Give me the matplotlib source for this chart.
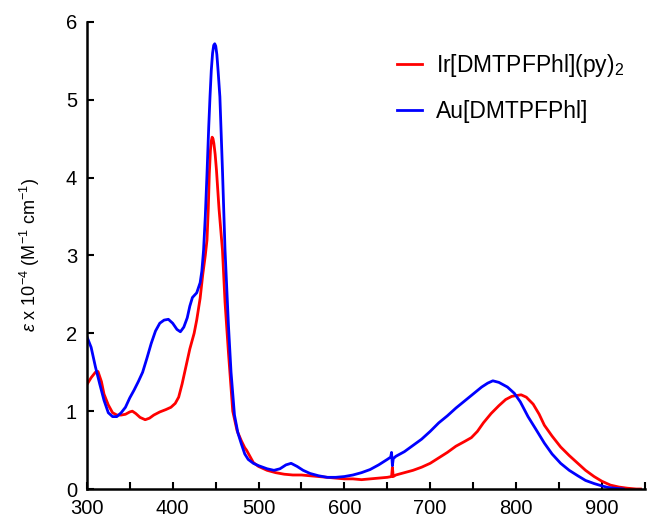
import matplotlib
matplotlib.use("Agg")
import matplotlib.pyplot as plt
from matplotlib.ticker import MultipleLocator

# Au[DMTPFPhl] absorption (blue)
au_wl = [300, 305, 310, 315, 320, 325, 330, 335, 340, 345, 350, 355, 360, 365,
         370, 375, 380, 385, 390, 395, 400, 405, 409, 413, 417, 420, 423, 428,
         432, 434, 436, 438, 440, 442, 443.5, 445, 446.5, 447.8, 449, 450.2,
         451.5, 453, 455, 458, 461, 465, 468, 472,
         476, 480, 484, 488, 494, 500, 510, 518, 525, 532, 538, 545, 552, 560,
         570, 580, 590, 600, 610, 620, 630, 640, 650, 654, 655, 656, 657, 660,
         670, 680, 690, 700, 710, 720, 730, 740, 750, 760, 767, 773, 780, 790,
         798, 805, 814, 823, 833, 842, 852, 862, 872, 881, 891, 900, 907, 915,
         925]
au_eps = [1.96, 1.82, 1.57, 1.35, 1.14, 0.98, 0.93, 0.93, 0.98, 1.05, 1.17,
          1.27, 1.38, 1.50, 1.68, 1.87, 2.03, 2.13, 2.17, 2.18, 2.13, 2.05,
          2.02, 2.08, 2.20, 2.35, 2.46, 2.52, 2.65, 2.80, 3.07, 3.50, 4.05,
          4.65, 5.04, 5.38, 5.60, 5.70, 5.72, 5.69, 5.58, 5.36, 5.04, 4.10,
          3.07, 2.10, 1.50, 0.95, 0.72, 0.58, 0.45,
          0.38, 0.33, 0.30, 0.26, 0.24, 0.26, 0.31, 0.33, 0.29, 0.24, 0.20,
          0.17, 0.15, 0.15, 0.16, 0.18, 0.21, 0.25, 0.31, 0.38, 0.41, 0.47,
          0.30, 0.39, 0.42, 0.48, 0.56, 0.64, 0.74, 0.85, 0.94, 1.04, 1.13,
          1.22, 1.31, 1.36, 1.39, 1.37, 1.31, 1.23, 1.12, 0.93, 0.77, 0.59,
          0.45, 0.33, 0.24, 0.17, 0.11, 0.07, 0.04, 0.02, 0.01, 0.0]

# Ir[DMTPFPhl](py)2 absorption (red)
ir_wl = [300, 305, 310, 313, 317, 320, 325, 330, 335, 340, 345, 350, 353, 357,
         362, 368, 373, 378, 385, 392, 398, 403, 407, 411, 415, 420, 425, 428,
         432, 435, 438, 440, 441.5, 442.7, 444, 445, 446, 447, 448, 449.5, 451,
         454, 458, 461, 465, 470,
         475, 480, 484, 486, 490, 494, 500, 510, 520, 530, 540, 550, 560, 570,
         580, 590, 600, 610, 620, 630, 640, 650, 655, 656, 657, 660, 670, 680,
         690, 700, 710, 720, 730, 740, 748, 755, 762, 771, 780, 788, 795, 800,
         806, 812, 820, 827, 833, 842, 852, 862, 872, 881, 891, 900, 910, 920,
         930, 940, 945]
ir_eps = [1.34, 1.43, 1.50, 1.51, 1.38, 1.22, 1.08, 0.98, 0.95, 0.95, 0.96,
          0.99, 1.00, 0.97, 0.92, 0.89, 0.91, 0.95, 0.99, 1.02, 1.05, 1.10,
          1.18, 1.35, 1.55, 1.80, 2.00, 2.17, 2.45, 2.75, 3.00, 3.20, 3.60,
          4.05, 4.35, 4.47, 4.52, 4.50, 4.44, 4.30, 4.10,
          3.60, 3.07, 2.40, 1.75, 1.00, 0.75, 0.62, 0.53,
          0.50, 0.42, 0.34, 0.29, 0.24, 0.21, 0.19, 0.18, 0.18, 0.17, 0.16,
          0.15, 0.14, 0.13, 0.13, 0.12, 0.13, 0.14, 0.15, 0.16, 0.28, 0.16,
          0.18, 0.21, 0.24, 0.28, 0.33, 0.40, 0.47, 0.55, 0.61, 0.66, 0.74,
          0.85, 0.97, 1.07, 1.15, 1.19, 1.20, 1.21, 1.18, 1.09, 0.96, 0.82,
          0.68, 0.54, 0.43, 0.33, 0.24, 0.16, 0.10, 0.05, 0.025, 0.01, 0.0,
          0.0]

plt.rcParams['font.family'] = ['Liberation Sans', 'DejaVu Sans']
plt.rcParams['mathtext.fontset'] = 'custom'
plt.rcParams['mathtext.rm'] = 'Liberation Sans'
plt.rcParams['mathtext.it'] = 'Liberation Sans:italic'

fig = plt.figure(figsize=(6.48, 5.23), dpi=100)
ax = fig.add_axes([0.134, 0.065, 0.861, 0.893])

ax.plot(ir_wl, ir_eps, color="#ff0000", lw=2.0, label=r"Ir[DMTPFPhl](py)$_2$")
ax.plot(au_wl, au_eps, color="#0000ff", lw=2.0, label="Au[DMTPFPhl]")

ax.set_xlim(300, 950)
ax.set_ylim(0, 6)
ax.xaxis.set_major_locator(MultipleLocator(100))
ax.xaxis.set_minor_locator(MultipleLocator(50))
ax.yaxis.set_major_locator(MultipleLocator(1))
ax.tick_params(which="both", direction="in", width=1.5, length=5,
               labelsize=14.5, pad=7)
for s in ["top", "right"]:
    ax.spines[s].set_visible(False)
for s in ["left", "bottom"]:
    ax.spines[s].set_linewidth(1.8)

ax.set_ylabel(r"$\it{ε}$ x 10$^{-4}$ (M$^{-1}$ cm$^{-1}$)", fontsize=13,
              labelpad=17)

ax.legend(loc="upper right", bbox_to_anchor=(1.0, 0.98), frameon=False,
          fontsize=16.5, handlelength=1.1, handletextpad=0.6, labelspacing=0.9)

fig.savefig("out.png", dpi=100)
